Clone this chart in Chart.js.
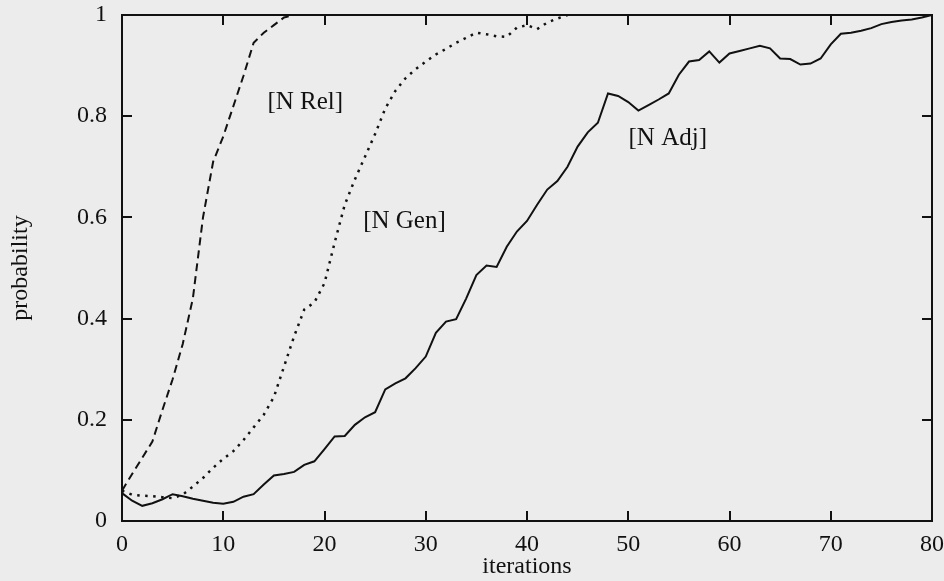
<!DOCTYPE html>
<html><head><meta charset="utf-8">
<script src="https://cdn.jsdelivr.net/npm/chart.js@4"></script>
<style>html,body{margin:0;padding:0;background:#ececec;} canvas{display:block;}</style>
</head><body>
<canvas id="c" width="944" height="581"></canvas>
<script>
const iterations = [0,1,2,3,4,5,6,7,8,9,10,11,12,13,14,15,16,17,18,19,20,21,22,23,24,25,26,27,28,29,30,31,32,33,34,35,36,37,38,39,40,41,42,43,44,45,46,47,48,49,50,51,52,53,54,55,56,57,58,59,60,61,62,63,64,65,66,67,68,69,70,71,72,73,74,75,76,77,78,79,80];
const nRel = [0.06,0.093,0.125,0.157,0.22,0.28,0.35,0.44,0.6,0.71,0.76,0.82,0.88,0.945,0.965,0.98,0.995,1.0];
const nGen = [0.06,0.052,0.05,0.049,0.047,0.045,0.052,0.068,0.085,0.105,0.123,0.138,0.16,0.185,0.21,0.245,0.305,0.365,0.418,0.432,0.47,0.55,0.625,0.675,0.72,0.765,0.815,0.85,0.875,0.893,0.908,0.922,0.933,0.945,0.955,0.965,0.962,0.958,0.957,0.975,0.98,0.972,0.985,0.993,1.0];
const nAdj = [0.055,0.04,0.03,0.035,0.043,0.053,0.049,0.044,0.04,0.036,0.034,0.038,0.048,0.053,0.072,0.09,0.093,0.097,0.111,0.118,0.142,0.167,0.168,0.19,0.205,0.215,0.26,0.272,0.282,0.302,0.325,0.372,0.394,0.399,0.44,0.486,0.505,0.502,0.542,0.572,0.593,0.625,0.655,0.672,0.7,0.74,0.768,0.787,0.845,0.84,0.828,0.811,0.822,0.833,0.845,0.882,0.908,0.911,0.928,0.906,0.924,0.929,0.934,0.939,0.934,0.914,0.913,0.902,0.904,0.914,0.942,0.963,0.965,0.969,0.974,0.982,0.986,0.989,0.991,0.995,1.0];
const seriesNames = ['[N Rel]','[N Gen]','[N Adj]'];
const xTicks = [0,10,20,30,40,50,60,70,80];
const xTickLabels = ['0','10','20','30','40','50','60','70','80'];
const yTicks = [0,0.2,0.4,0.6,0.8,1];
const yTickLabels = ['0','0.2','0.4','0.6','0.8','1'];

const FAM = '"Liberation Serif", "Times New Roman", serif';
const toXY = vals => vals.map((v, i) => ({x: iterations[i], y: v}));

const labelAnchors = [
  {x: 18.1, y: 0.828},
  {x: 27.9, y: 0.592},
  {x: 53.9, y: 0.756}
];

const curveLabelPlugin = {
  id: 'curveLabels',
  afterDatasetsDraw(chart) {
    const {ctx, scales} = chart;
    ctx.save();
    ctx.font = '25px ' + FAM;
    ctx.fillStyle = '#111';
    ctx.textAlign = 'center';
    ctx.textBaseline = 'middle';
    seriesNames.forEach((name, i) => {
      const a = labelAnchors[i];
      ctx.fillText(name, scales.x.getPixelForValue(a.x), scales.y.getPixelForValue(a.y));
    });
    ctx.restore();
  }
};

const gridOpts = {drawOnChartArea: false, drawTicks: true, tickLength: -10, color: '#111', lineWidth: 2};
const borderOpts = {display: true, color: '#111', width: 2};
const setXTicks = s => { s.ticks = xTicks.map(v => ({value: v})); };
const setYTicks = s => { s.ticks = yTicks.map(v => ({value: v})); };
const fitH = h => s => { s.height = h; s.paddingLeft = 0; s.paddingRight = 0; s.paddingTop = 0; s.paddingBottom = 0; };
const fitW = w => s => { s.width = w; s.paddingLeft = 0; s.paddingRight = 0; s.paddingTop = 0; s.paddingBottom = 0; };

new Chart(document.getElementById('c'), {
  type: 'line',
  data: {
    datasets: [
      {label: seriesNames[0], data: toXY(nRel), borderColor: '#111', borderWidth: 2, borderDash: [8, 5], pointRadius: 0, tension: 0, fill: false},
      {label: seriesNames[1], data: toXY(nGen), borderColor: '#111', borderWidth: 2.5, borderDash: [2.5, 5.5], pointRadius: 0, tension: 0, fill: false},
      {label: seriesNames[2], data: toXY(nAdj), borderColor: '#111', borderWidth: 2, pointRadius: 0, tension: 0, fill: false}
    ]
  },
  options: {
    responsive: false,
    animation: false,
    devicePixelRatio: 1,
    layout: {padding: {left: 0, right: 12, top: 15, bottom: 0}},
    plugins: {legend: {display: false}, tooltip: {enabled: false}},
    scales: {
      x: {
        type: 'linear', position: 'bottom', min: 0, max: 80,
        afterBuildTicks: setXTicks,
        afterFit: fitH(60),
        grid: gridOpts, border: borderOpts,
        ticks: {color: '#111', font: {family: FAM, size: 24}, padding: 19, maxRotation: 0, autoSkip: false,
                callback: v => xTickLabels[xTicks.indexOf(v)]},
        title: {display: true, text: 'iterations', color: '#111', font: {family: FAM, size: 24}, padding: {top: 0, bottom: 0}}
      },
      x2: {
        type: 'linear', position: 'top', min: 0, max: 80,
        afterBuildTicks: setXTicks,
        afterFit: fitH(0),
        grid: gridOpts, border: borderOpts,
        ticks: {display: false}
      },
      y: {
        type: 'linear', position: 'left', min: 0, max: 1,
        afterBuildTicks: setYTicks,
        afterFit: fitW(122),
        grid: gridOpts, border: borderOpts,
        ticks: {color: '#111', font: {family: FAM, size: 24}, padding: 25,
                callback: v => yTickLabels[yTicks.indexOf(v)]},
        title: {display: true, text: 'probability', color: '#111', font: {family: FAM, size: 24}, padding: {top: 6, bottom: 0}}
      },
      y2: {
        type: 'linear', position: 'right', min: 0, max: 1,
        afterBuildTicks: setYTicks,
        afterFit: fitW(0),
        grid: gridOpts, border: borderOpts,
        ticks: {display: false}
      }
    }
  },
  plugins: [curveLabelPlugin]
});
</script>
</body></html>
